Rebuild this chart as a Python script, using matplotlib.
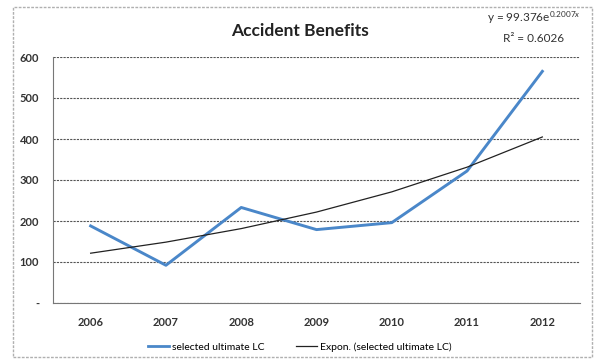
import numpy as np
import matplotlib.pyplot as plt
from matplotlib.patches import Rectangle
from matplotlib.lines import Line2D

plt.rcParams['font.family'] = ['Lato', 'DejaVu Sans']
plt.rcParams['mathtext.fontset'] = 'custom'
plt.rcParams['mathtext.rm'] = 'Lato'
plt.rcParams['mathtext.it'] = 'Lato:italic'

years = ['2006', '2007', '2008', '2009', '2010', '2011', '2012']
ultimate_lc = [188, 92, 233, 179, 196, 322, 565]

# exponential trendline y = a * exp(b * x), x = 1..n
fit_a = 99.376
fit_b = 0.2007
fit_r2 = 0.6026

x = np.arange(len(years))
trend = fit_a * np.exp(fit_b * (x + 1))

fig = plt.figure(figsize=(5.95, 3.59), dpi=100)
W, H = 595, 359
ax = fig.add_axes([53 / W, 1 - 303 / H, (580 - 53) / W, (303 - 57) / H])

# outer chart border
fig.patches.append(Rectangle((13 / W, 2 / H), (592 - 13) / W, (352 - 2) / H,
                             transform=fig.transFigure, fill=False,
                             edgecolor='#b0b0b0', linewidth=1, linestyle=(0, (2, 1))))

ax.plot(x, ultimate_lc, color='#4a87c9', linewidth=2.1, zorder=3)
ax.plot(x, trend, color='#222222', linewidth=0.9, zorder=4)

ax.set_xlim(-0.5, len(years) - 0.5)
ax.set_ylim(0, 600)
ax.set_yticks(range(0, 700, 100))
ax.set_yticklabels(['-'] + [str(v) for v in range(100, 700, 100)])
ax.set_xticks(x)
ax.set_xticklabels(years)
ax.tick_params(axis='both', length=0, labelsize=8, colors='#333333', pad=10)
ax.tick_params(axis='x', pad=10)
for lbl in ax.get_xticklabels() + ax.get_yticklabels():
    lbl.set_fontweight('bold')

ax.yaxis.grid(True, color='#555555', linewidth=0.8, linestyle=(0, (2, 1)))
ax.set_axisbelow(True)
for side in ['top', 'right']:
    ax.spines[side].set_visible(False)
ax.spines['left'].set_color('#777777')
ax.spines['bottom'].set_color('#777777')

fig.text(300 / W, 1 - 31 / H, 'Accident Benefits', ha='center', va='center',
         fontsize=12.5, fontweight='bold', color='#222222')
fig.text(534 / W, 1 - 18 / H, r'y = 99.376e$^{0.2007x}$', ha='center', va='center',
         fontsize=8.5, color='#333333')
fig.text(534 / W, 1 - 38 / H, 'R\u00b2 = 0.6026', ha='center', va='center',
         fontsize=8.5, color='#333333')

handles = [Line2D([], [], color='#4a87c9', linewidth=2),
           Line2D([], [], color='#222222', linewidth=0.9)]
fig.legend(handles, ['selected ultimate LC', 'Expon. (selected ultimate LC)'],
           loc='center', bbox_to_anchor=(300 / W, 1 - 347 / H), ncol=2,
           frameon=False, fontsize=7.5, handlelength=2, handletextpad=0.3,
           columnspacing=3)

fig.savefig('out.png', dpi=100)
